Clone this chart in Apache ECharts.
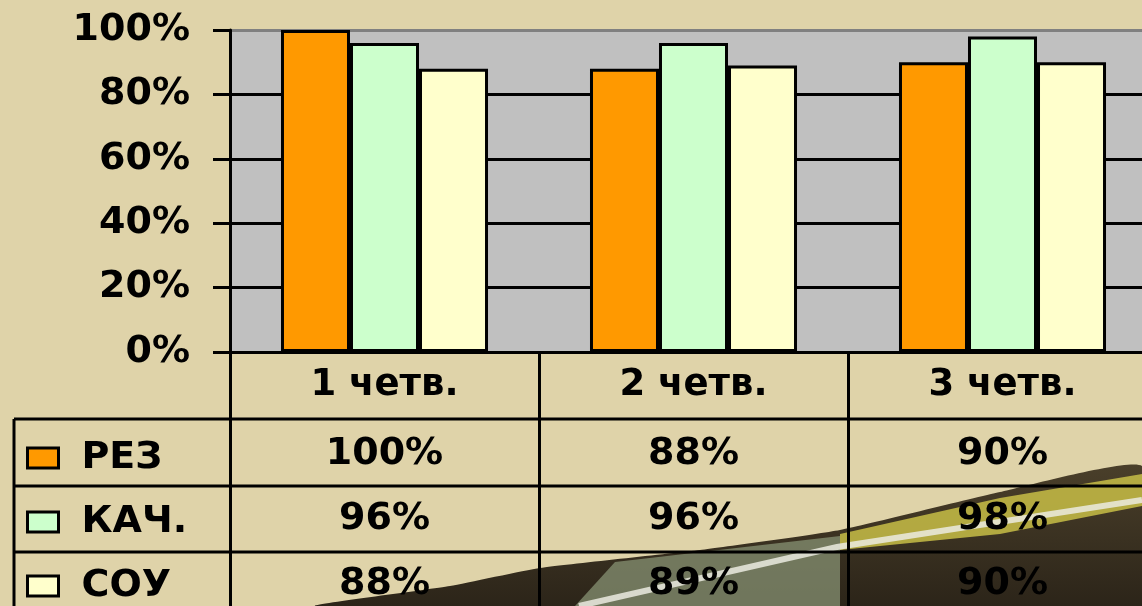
<!DOCTYPE html>
<html>
<head>
<meta charset="utf-8">
<script src="https://cdn.jsdelivr.net/npm/echarts@6/dist/echarts.min.js"></script>
<style>
html, body { margin: 0; padding: 0; }
#main { width: 1142px; height: 606px; }
</style>
</head>
<body>
<div id="main"></div>
<script>
// данные диаграммы
var categories = ['1 четв.', '2 четв.', '3 четв.'];
var seriesNames = ['РЕЗ', 'КАЧ.', 'СОУ'];
var rez = [100, 88, 90];
var kach = [96, 96, 98];
var sou = [88, 89, 90];
var yTicks = [0, 20, 40, 60, 80, 100];

var colors = ['#ff9900', '#ccffcc', '#ffffcc'];
var allValues = [rez, kach, sou];
var FONT = 'DejaVu Sans';
var rowCenters = [457, 521, 585]; // центры строк таблицы (легенда)

var myChart = echarts.init(document.getElementById('main'));

// подпись категории + строки таблицы под ней
function catLabel(value, idx) {
	var s = '{c|' + value + '}';
	for (var i = 0; i < allValues.length; i++) {
		s += '\n{v|' + allValues[i][idx] + '%}';
	}
	return s;
}

function tableLine(x1, y1, x2, y2) {
	return {
		type : 'line', z : 50, silent : true,
		shape : { x1 : x1, y1 : y1, x2 : x2, y2 : y2 },
		style : { stroke : '#000', lineWidth : 3 }
	};
}

// отдельная легенда на каждую строку таблицы
var legends = [];
for (var k = 0; k < seriesNames.length; k++) {
	legends.push({
		orient : 'vertical',
		left : 26,
		top : rowCenters[k] - 18,
		padding : 0,
		itemWidth : 31,
		itemHeight : 20,
		icon : 'rect',
		selectedMode : false,
		data : [seriesNames[k]],
		itemStyle : {
			borderColor : '#000',
			borderWidth : 3
		},
		textStyle : {
			fontFamily : FONT,
			fontWeight : 'bold',
			fontSize : 38,
			color : '#000',
			padding : [0, 0, 0, 18]
		}
	});
}

var option = {
	backgroundColor : '#dfd3a9',
	animation : false,
	grid : {
		left : 230,
		top : 30,
		width : 927,
		height : 322,
		outerBoundsMode : 'none',
		show : true,
		backgroundColor : '#c0c0c0',
		borderWidth : 0
	},
	legend : legends,
	xAxis : {
		type : 'category',
		data : categories,
		axisLine : {
			lineStyle : { color : '#000', width : 3 }
		},
		axisTick : {
			show : true,
			length : 260,
			lineStyle : { color : '#000', width : 3 }
		},
		axisLabel : {
			margin : -4,
			interval : 0,
			formatter : catLabel,
			rich : {
				c : {
					fontFamily : FONT,
					fontWeight : 'bold',
					fontSize : 37,
					lineHeight : 74,
					color : '#000'
				},
				v : {
					fontFamily : FONT,
					fontWeight : 'bold',
					fontSize : 38,
					lineHeight : 65,
					color : '#000'
				}
			}
		}
	},
	yAxis : {
		type : 'value',
		min : yTicks[0],
		max : yTicks[yTicks.length - 1],
		interval : 20,
		axisLine : {
			show : true,
			lineStyle : { color : '#000', width : 3 }
		},
		axisTick : {
			show : true,
			length : 17,
			lineStyle : { color : '#000', width : 3 }
		},
		axisLabel : {
			margin : 40,
			formatter : '{value}%',
			fontFamily : FONT,
			fontWeight : 'bold',
			fontSize : 38,
			color : '#000'
		},
		splitLine : {
			show : true,
			lineStyle : {
				color : ['#000', '#000', '#000', '#000', '#000', '#808080'],
				width : 3
			}
		}
	},
	graphic : [
		// перо на фоне (украшение)
		{
			type : 'polygon',
			z : -10,
			silent : true,
			shape : {
				points : [[316, 606], [450, 586], [540, 568], [700, 550], [840, 530], [1000, 492], [1142, 466], [1142, 606]],
				smooth : 0.15
			},
			style : {
				fill : new echarts.graphic.LinearGradient(0, 0, 0, 1, [
					{ offset : 0, color : '#4a3f2a' },
					{ offset : 1, color : '#2a2318' }
				])
			}
		},
		{
			type : 'polygon',
			z : -9,
			silent : true,
			shape : {
				points : [[575, 606], [615, 562], [840, 536], [840, 606]]
			},
			style : { fill : 'rgba(135,145,115,0.75)' }
		},
		{
			type : 'polygon',
			z : -9,
			silent : true,
			shape : {
				points : [[840, 550], [840, 534], [1000, 498], [1142, 474], [1142, 506], [1000, 534]]
			},
			style : { fill : 'rgba(200,190,70,0.85)' }
		},
		{
			type : 'polyline',
			z : -8,
			silent : true,
			shape : {
				points : [[579, 606], [837, 547], [1142, 500]]
			},
			style : { stroke : 'rgba(235,235,225,0.85)', lineWidth : 6, fill : null }
		},
		// линии таблицы
		tableLine(14, 419, 1142, 419),
		tableLine(14, 486, 1142, 486),
		tableLine(14, 552, 1142, 552),
		tableLine(14, 419, 14, 606)
	],
	series : []
};

for (var i = 0; i < seriesNames.length; i++) {
	option.series.push({
		name : seriesNames[i],
		type : 'bar',
		data : allValues[i],
		barGap : '0%',
		barCategoryGap : '33%',
		itemStyle : {
			color : colors[i],
			borderColor : '#000',
			borderWidth : 3
		}
	});
}

myChart.setOption(option);
</script>
</body>
</html>
